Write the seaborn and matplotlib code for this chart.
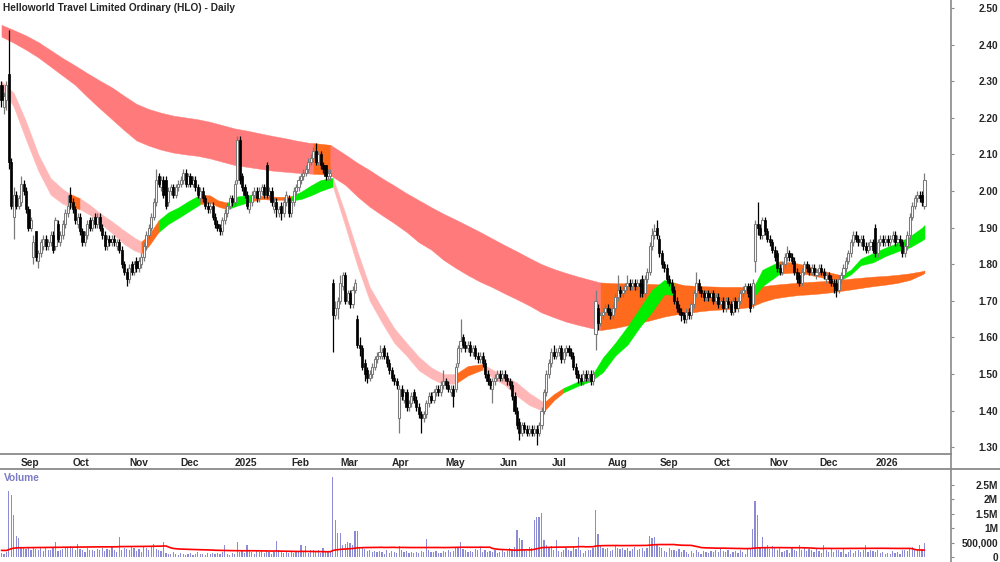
import numpy as np
import pandas as pd
import matplotlib
matplotlib.use("Agg")
import matplotlib.pyplot as plt
from matplotlib.lines import Line2D
import seaborn as sns

sns.set_style("white")
plt.rcParams["font.family"] = ["Liberation Sans", "DejaVu Sans"]
plt.rcParams["font.weight"] = "bold"

title = "Helloworld Travel Limited Ordinary (HLO) - Daily"
first_day = "2024-08-21"

# daily candles
opens = [
    2.29, 2.23, 2.25, 2.32, 2.08, 1.93, 1.99, 1.96, 1.97, 2.02,
    2.00, 1.95, 1.90, 1.82, 1.89, 1.81, 1.83, 1.85, 1.87, 1.85,
    1.86, 1.88, 1.85, 1.91, 1.86, 1.88, 1.91, 1.94, 1.99, 1.97,
    1.95, 1.91, 1.93, 1.89, 1.86, 1.88, 1.92, 1.90, 1.93, 1.91,
    1.93, 1.90, 1.88, 1.85, 1.87, 1.86, 1.87, 1.85, 1.86, 1.84,
    1.80, 1.78, 1.76, 1.80, 1.78, 1.81, 1.79, 1.80, 1.82, 1.85,
    1.88, 1.90, 1.93, 1.97, 2.04, 2.01, 2.03, 2.03, 1.97, 2.00,
    2.01, 1.99, 2.01, 2.02, 2.03, 2.05, 2.02, 2.04, 2.02, 2.03,
    2.01, 1.98, 2.00, 1.98, 1.96, 1.95, 1.96, 1.93, 1.91, 1.90,
    1.89, 1.92, 1.94, 1.96, 1.98, 1.97, 2.03, 2.14, 2.04, 2.01,
    1.99, 1.95, 1.97, 1.99, 2.00, 1.98, 2.00, 2.01, 2.07, 1.99,
    2.00, 1.95, 1.97, 1.94, 1.96, 1.94, 1.97, 1.98, 1.94, 1.97,
    2.00, 2.01, 2.03, 2.04, 2.05, 2.06, 2.08, 2.09, 2.11, 2.08,
    2.10, 2.07, 2.07, 2.04, 2.04, 1.75, 1.66, 1.68, 1.70, 1.74,
    1.77, 1.70, 1.72, 1.69, 1.73, 1.65, 1.58, 1.57, 1.53, 1.51,
    1.49, 1.50, 1.52, 1.54, 1.55, 1.55, 1.57, 1.55, 1.53, 1.51,
    1.49, 1.48, 1.38, 1.46, 1.43, 1.45, 1.41, 1.42, 1.45, 1.43,
    1.41, 1.39, 1.38, 1.39, 1.42, 1.44, 1.43, 1.45, 1.46, 1.45,
    1.47, 1.48, 1.47, 1.45, 1.46, 1.46, 1.53, 1.57, 1.60, 1.58,
    1.57, 1.58, 1.56, 1.57, 1.55, 1.54, 1.55, 1.53, 1.50, 1.48,
    1.46, 1.48, 1.49, 1.50, 1.49, 1.50, 1.49, 1.48, 1.47, 1.44,
    1.40, 1.37, 1.34, 1.36, 1.35, 1.34, 1.35, 1.34, 1.35, 1.34,
    1.36, 1.40, 1.45, 1.50, 1.53, 1.56, 1.55, 1.56, 1.57, 1.54,
    1.56, 1.57, 1.56, 1.55, 1.52, 1.50, 1.49, 1.48, 1.50, 1.49,
    1.50, 1.48, 1.61, 1.68, 1.64, 1.66, 1.67, 1.68, 1.67, 1.66,
    1.68, 1.71, 1.73, 1.72, 1.73, 1.74, 1.75, 1.74, 1.75, 1.74,
    1.75, 1.76, 1.72, 1.76, 1.78, 1.85, 1.88, 1.90, 1.87, 1.83,
    1.80, 1.79, 1.76, 1.75, 1.73, 1.70, 1.68, 1.67, 1.66, 1.65,
    1.67, 1.66, 1.69, 1.72, 1.75, 1.73, 1.72, 1.71, 1.72, 1.71,
    1.72, 1.70, 1.71, 1.69, 1.70, 1.68, 1.70, 1.69, 1.67, 1.70,
    1.68, 1.70, 1.72, 1.73, 1.74, 1.74, 1.69, 1.81, 1.91, 1.90,
    1.88, 1.92, 1.89, 1.87, 1.86, 1.84, 1.83, 1.79, 1.78, 1.80,
    1.82, 1.83, 1.82, 1.81, 1.78, 1.77, 1.75, 1.78, 1.80, 1.79,
    1.78, 1.79, 1.77, 1.78, 1.79, 1.78, 1.76, 1.77, 1.76, 1.75,
    1.75, 1.73, 1.76, 1.77, 1.79, 1.81, 1.83, 1.86, 1.88, 1.87,
    1.86, 1.87, 1.85, 1.84, 1.85, 1.86, 1.90, 1.83, 1.86, 1.87,
    1.86, 1.87, 1.86, 1.87, 1.88, 1.86, 1.87, 1.86, 1.83, 1.85,
    1.88, 1.93, 1.96, 1.98, 1.99, 1.99, 1.96,
]
highs = [
    2.30, 2.27, 2.30, 2.44, 2.09, 2.01, 2.00, 1.99, 2.04, 2.03,
    2.01, 1.96, 1.93, 1.88, 1.89, 1.84, 1.87, 1.88, 1.88, 1.87,
    1.89, 1.89, 1.93, 1.92, 1.89, 1.92, 1.95, 1.99, 2.01, 1.98,
    1.96, 1.94, 1.94, 1.90, 1.89, 1.92, 1.93, 1.93, 1.94, 1.94,
    1.94, 1.91, 1.89, 1.88, 1.88, 1.88, 1.88, 1.87, 1.87, 1.85,
    1.81, 1.79, 1.80, 1.81, 1.81, 1.82, 1.82, 1.83, 1.86, 1.89,
    1.91, 1.94, 1.98, 2.06, 2.05, 2.04, 2.04, 2.04, 2.01, 2.02,
    2.02, 2.02, 2.03, 2.04, 2.06, 2.06, 2.05, 2.05, 2.04, 2.04,
    2.02, 2.01, 2.01, 1.99, 1.97, 1.97, 1.97, 1.94, 1.92, 1.91,
    1.93, 1.95, 1.97, 1.99, 1.99, 2.03, 2.15, 2.15, 2.05, 2.02,
    2.00, 1.98, 2.00, 2.01, 2.01, 2.01, 2.02, 2.02, 2.08, 2.01,
    2.01, 1.98, 1.98, 1.96, 1.97, 1.98, 2.00, 1.99, 1.98, 2.01,
    2.02, 2.04, 2.05, 2.06, 2.07, 2.09, 2.10, 2.12, 2.13, 2.11,
    2.11, 2.08, 2.07, 2.06, 2.06, 1.76, 1.70, 1.71, 1.77, 1.78,
    1.78, 1.73, 1.73, 1.74, 1.76, 1.66, 1.60, 1.58, 1.54, 1.52,
    1.51, 1.53, 1.55, 1.56, 1.58, 1.57, 1.58, 1.56, 1.54, 1.52,
    1.50, 1.49, 1.47, 1.47, 1.46, 1.46, 1.43, 1.45, 1.46, 1.44,
    1.42, 1.40, 1.40, 1.43, 1.45, 1.45, 1.46, 1.47, 1.47, 1.48,
    1.51, 1.49, 1.48, 1.47, 1.47, 1.53, 1.58, 1.65, 1.61, 1.59,
    1.59, 1.59, 1.58, 1.58, 1.56, 1.56, 1.56, 1.54, 1.51, 1.49,
    1.49, 1.50, 1.51, 1.51, 1.51, 1.51, 1.50, 1.49, 1.48, 1.45,
    1.41, 1.38, 1.37, 1.37, 1.36, 1.36, 1.36, 1.36, 1.36, 1.37,
    1.41, 1.46, 1.51, 1.54, 1.57, 1.58, 1.57, 1.58, 1.58, 1.57,
    1.58, 1.58, 1.57, 1.56, 1.53, 1.51, 1.50, 1.51, 1.51, 1.51,
    1.51, 1.51, 1.73, 1.69, 1.67, 1.68, 1.69, 1.69, 1.68, 1.69,
    1.72, 1.77, 1.74, 1.74, 1.75, 1.77, 1.76, 1.76, 1.76, 1.76,
    1.76, 1.77, 1.77, 1.79, 1.86, 1.90, 1.91, 1.92, 1.88, 1.84,
    1.81, 1.80, 1.77, 1.76, 1.74, 1.71, 1.69, 1.68, 1.67, 1.68,
    1.68, 1.70, 1.73, 1.78, 1.76, 1.74, 1.73, 1.73, 1.73, 1.73,
    1.73, 1.72, 1.72, 1.71, 1.71, 1.71, 1.71, 1.70, 1.71, 1.71,
    1.71, 1.73, 1.74, 1.75, 1.75, 1.75, 1.76, 1.92, 1.97, 1.91,
    1.93, 1.93, 1.90, 1.88, 1.87, 1.85, 1.84, 1.80, 1.81, 1.83,
    1.85, 1.84, 1.83, 1.82, 1.79, 1.78, 1.79, 1.81, 1.81, 1.80,
    1.80, 1.80, 1.79, 1.80, 1.80, 1.79, 1.78, 1.78, 1.77, 1.76,
    1.76, 1.77, 1.78, 1.80, 1.82, 1.84, 1.87, 1.89, 1.89, 1.88,
    1.88, 1.88, 1.86, 1.86, 1.87, 1.87, 1.91, 1.87, 1.88, 1.88,
    1.88, 1.88, 1.88, 1.89, 1.89, 1.88, 1.88, 1.87, 1.86, 1.89,
    1.94, 1.97, 1.99, 2.00, 2.00, 2.00, 2.05,
]
lows = [
    2.23, 2.21, 2.22, 2.06, 1.95, 1.87, 1.95, 1.95, 1.96, 1.99,
    1.94, 1.89, 1.89, 1.80, 1.81, 1.79, 1.82, 1.84, 1.84, 1.84,
    1.85, 1.83, 1.84, 1.86, 1.85, 1.87, 1.90, 1.93, 1.95, 1.94,
    1.91, 1.90, 1.88, 1.85, 1.85, 1.87, 1.89, 1.89, 1.90, 1.90,
    1.89, 1.87, 1.84, 1.84, 1.85, 1.85, 1.85, 1.84, 1.83, 1.79,
    1.77, 1.74, 1.75, 1.77, 1.77, 1.78, 1.78, 1.79, 1.81, 1.84,
    1.87, 1.89, 1.92, 1.96, 2.01, 2.00, 1.98, 1.95, 1.96, 1.99,
    1.98, 1.98, 2.00, 2.01, 2.02, 2.01, 2.01, 2.01, 2.01, 2.00,
    1.98, 1.97, 1.97, 1.95, 1.94, 1.94, 1.92, 1.90, 1.89, 1.88,
    1.88, 1.91, 1.93, 1.95, 1.96, 1.96, 2.02, 2.02, 2.00, 1.98,
    1.95, 1.94, 1.96, 1.98, 1.97, 1.97, 1.99, 1.98, 1.98, 1.98,
    1.96, 1.94, 1.93, 1.93, 1.92, 1.93, 1.96, 1.93, 1.93, 1.96,
    1.99, 2.00, 2.02, 2.03, 2.04, 2.05, 2.07, 2.08, 2.07, 2.07,
    2.06, 2.05, 2.03, 2.03, 2.03, 1.56, 1.65, 1.65, 1.69, 1.73,
    1.69, 1.69, 1.68, 1.68, 1.72, 1.57, 1.55, 1.51, 1.48, 1.475,
    1.48, 1.49, 1.51, 1.53, 1.54, 1.54, 1.54, 1.52, 1.50, 1.48,
    1.47, 1.46, 1.34, 1.43, 1.42, 1.40, 1.40, 1.41, 1.42, 1.40,
    1.38, 1.34, 1.37, 1.38, 1.41, 1.42, 1.42, 1.44, 1.44, 1.44,
    1.46, 1.46, 1.45, 1.44, 1.41, 1.45, 1.52, 1.56, 1.57, 1.56,
    1.56, 1.55, 1.55, 1.54, 1.53, 1.53, 1.52, 1.49, 1.47, 1.46,
    1.42, 1.47, 1.48, 1.48, 1.48, 1.48, 1.47, 1.46, 1.43, 1.39,
    1.35, 1.32, 1.33, 1.34, 1.33, 1.33, 1.33, 1.33, 1.305, 1.33,
    1.35, 1.39, 1.44, 1.49, 1.52, 1.54, 1.54, 1.55, 1.53, 1.53,
    1.55, 1.55, 1.54, 1.51, 1.49, 1.475, 1.47, 1.47, 1.48, 1.48,
    1.47, 1.47, 1.566, 1.62, 1.63, 1.65, 1.66, 1.66, 1.65, 1.65,
    1.67, 1.70, 1.71, 1.71, 1.72, 1.73, 1.73, 1.73, 1.73, 1.73,
    1.71, 1.71, 1.71, 1.75, 1.77, 1.84, 1.87, 1.87, 1.82, 1.79,
    1.78, 1.75, 1.74, 1.72, 1.69, 1.67, 1.66, 1.645, 1.64, 1.64,
    1.65, 1.65, 1.68, 1.71, 1.72, 1.71, 1.70, 1.70, 1.70, 1.70,
    1.69, 1.69, 1.68, 1.68, 1.67, 1.67, 1.68, 1.66, 1.66, 1.67,
    1.67, 1.69, 1.71, 1.72, 1.71, 1.67, 1.68, 1.78, 1.88, 1.87,
    1.87, 1.88, 1.86, 1.85, 1.83, 1.81, 1.78, 1.77, 1.77, 1.79,
    1.81, 1.81, 1.80, 1.77, 1.75, 1.74, 1.74, 1.77, 1.78, 1.77,
    1.77, 1.77, 1.76, 1.77, 1.77, 1.76, 1.75, 1.75, 1.74, 1.72,
    1.711, 1.72, 1.75, 1.76, 1.78, 1.80, 1.82, 1.85, 1.86, 1.85,
    1.85, 1.84, 1.83, 1.83, 1.84, 1.83, 1.82, 1.82, 1.85, 1.85,
    1.85, 1.85, 1.85, 1.86, 1.85, 1.85, 1.85, 1.82, 1.82, 1.84,
    1.87, 1.92, 1.95, 1.97, 1.97, 1.96, 1.95,
]
closes = [
    2.25, 2.26, 2.29, 2.08, 1.96, 1.99, 1.96, 1.98, 2.02, 2.00,
    1.95, 1.90, 1.92, 1.86, 1.82, 1.83, 1.86, 1.87, 1.85, 1.86,
    1.88, 1.84, 1.92, 1.87, 1.88, 1.91, 1.94, 1.96, 1.97, 1.95,
    1.92, 1.93, 1.89, 1.86, 1.88, 1.91, 1.90, 1.92, 1.91, 1.93,
    1.90, 1.88, 1.85, 1.87, 1.86, 1.87, 1.86, 1.86, 1.84, 1.80,
    1.78, 1.76, 1.79, 1.78, 1.80, 1.79, 1.81, 1.82, 1.85, 1.88,
    1.90, 1.93, 1.97, 2.03, 2.02, 2.03, 1.99, 1.96, 2.00, 2.01,
    1.99, 2.01, 2.02, 2.03, 2.05, 2.02, 2.04, 2.02, 2.03, 2.01,
    1.99, 2.00, 1.98, 1.96, 1.95, 1.96, 1.93, 1.91, 1.90, 1.89,
    1.92, 1.94, 1.96, 1.98, 1.97, 2.02, 2.14, 2.03, 2.01, 1.99,
    1.96, 1.97, 1.99, 2.00, 1.98, 2.00, 2.01, 1.99, 1.99, 2.00,
    1.97, 1.96, 1.95, 1.95, 1.94, 1.97, 1.99, 1.94, 1.97, 2.00,
    2.01, 2.03, 2.04, 2.05, 2.06, 2.08, 2.09, 2.11, 2.08, 2.10,
    2.07, 2.06, 2.04, 2.05, 2.05, 1.66, 1.68, 1.70, 1.75, 1.77,
    1.70, 1.72, 1.69, 1.73, 1.75, 1.58, 1.57, 1.52, 1.50, 1.49,
    1.50, 1.52, 1.54, 1.55, 1.56, 1.56, 1.55, 1.53, 1.51, 1.49,
    1.48, 1.47, 1.46, 1.44, 1.45, 1.41, 1.42, 1.44, 1.43, 1.41,
    1.39, 1.38, 1.39, 1.42, 1.44, 1.43, 1.45, 1.46, 1.45, 1.47,
    1.48, 1.47, 1.46, 1.46, 1.44, 1.52, 1.57, 1.59, 1.58, 1.57,
    1.58, 1.56, 1.57, 1.55, 1.54, 1.55, 1.53, 1.50, 1.48, 1.47,
    1.48, 1.49, 1.50, 1.49, 1.50, 1.49, 1.48, 1.47, 1.44, 1.40,
    1.36, 1.34, 1.36, 1.35, 1.34, 1.35, 1.34, 1.35, 1.34, 1.36,
    1.40, 1.45, 1.50, 1.53, 1.56, 1.55, 1.56, 1.57, 1.54, 1.56,
    1.57, 1.56, 1.55, 1.52, 1.50, 1.49, 1.48, 1.50, 1.49, 1.50,
    1.48, 1.50, 1.70, 1.64, 1.66, 1.67, 1.68, 1.67, 1.66, 1.68,
    1.71, 1.73, 1.72, 1.73, 1.74, 1.75, 1.74, 1.75, 1.74, 1.75,
    1.74, 1.72, 1.76, 1.78, 1.85, 1.88, 1.89, 1.88, 1.83, 1.80,
    1.79, 1.76, 1.75, 1.73, 1.70, 1.68, 1.67, 1.66, 1.65, 1.67,
    1.66, 1.69, 1.72, 1.75, 1.73, 1.72, 1.71, 1.72, 1.71, 1.72,
    1.70, 1.71, 1.69, 1.70, 1.68, 1.70, 1.69, 1.67, 1.70, 1.68,
    1.70, 1.72, 1.73, 1.74, 1.72, 1.68, 1.75, 1.91, 1.90, 1.88,
    1.92, 1.89, 1.87, 1.86, 1.84, 1.82, 1.79, 1.78, 1.80, 1.82,
    1.83, 1.82, 1.81, 1.78, 1.76, 1.75, 1.78, 1.80, 1.79, 1.78,
    1.79, 1.78, 1.78, 1.79, 1.78, 1.77, 1.77, 1.76, 1.75, 1.74,
    1.73, 1.76, 1.77, 1.79, 1.81, 1.83, 1.86, 1.88, 1.87, 1.86,
    1.87, 1.85, 1.84, 1.85, 1.86, 1.84, 1.83, 1.86, 1.87, 1.86,
    1.87, 1.86, 1.87, 1.88, 1.86, 1.87, 1.86, 1.83, 1.85, 1.88,
    1.93, 1.96, 1.98, 1.99, 1.98, 1.97, 2.03,
]
# daily volume, thousands of shares
volume_k = [
    140, 110, 180, 2300, 2150, 1460, 730, 660, 300, 350,
    280, 330, 260, 340, 290, 250, 310, 200, 330, 260,
    240, 300, 530, 220, 250, 270, 320, 340, 380, 300,
    260, 450, 280, 250, 190, 300, 240, 260, 200, 270,
    230, 310, 210, 280, 250, 330, 240, 160, 700, 230,
    300, 290, 260, 330, 310, 200, 270, 180, 330, 300,
    250, 380, 440, 290, 260, 200, 530, 150, 90, 120,
    160, 110, 80, 140, 100, 70, 90, 130, 80, 110,
    160, 90, 120, 70, 150, 110, 140, 100, 130, 90,
    170, 420, 120, 80, 150, 110, 530, 170, 230, 130,
    420, 260, 180, 120, 220, 160, 200, 140, 260, 180,
    120, 190, 570, 230, 200, 150, 180, 130, 220, 150,
    170, 180, 410, 160, 370, 150, 240, 230, 180, 260,
    150, 300, 200, 160, 190, 2790, 1280, 830, 830, 420,
    460, 530, 500, 420, 910, 910, 350, 300, 270, 220,
    250, 180, 200, 160, 220, 180, 120, 240, 150, 200,
    190, 150, 380, 240, 160, 220, 130, 180, 150, 190,
    140, 200, 170, 620, 240, 180, 160, 210, 140, 130,
    200, 160, 250, 180, 220, 300, 360, 530, 290, 250,
    180, 220, 160, 280, 240, 300, 190, 250, 170, 200,
    160, 230, 150, 190, 260, 170, 210, 300, 250, 330,
    940, 660, 590, 280, 220, 350, 300, 1280, 1380, 1380,
    1520, 590, 410, 300, 370, 260, 590, 220, 180, 260,
    300, 240, 200, 330, 270, 690, 260, 150, 200, 260,
    230, 310, 1630, 800, 370, 320, 280, 300, 210, 250,
    420, 320, 280, 300, 240, 310, 200, 290, 340, 250,
    270, 310, 220, 300, 730, 650, 690, 430, 360, 300,
    220, 180, 310, 250, 260, 200, 280, 170, 230, 190,
    120, 210, 150, 240, 180, 90, 200, 170, 130, 220,
    160, 240, 190, 300, 220, 170, 260, 120, 180, 210,
    150, 230, 190, 120, 280, 320, 970, 1940, 1460, 340,
    700, 330, 400, 280, 380, 320, 250, 300, 180, 200,
    260, 150, 330, 240, 200, 400, 230, 350, 210, 280,
    260, 180, 320, 200, 150, 400, 250, 190, 300, 170,
    230, 260, 160, 300, 120, 190, 240, 140, 200, 250,
    170, 260, 420, 180, 230, 210, 160, 260, 140, 180,
    90, 130, 100, 200, 150, 170, 120, 230, 260, 200,
    300, 360, 260, 230, 420, 280, 490,
]
vol_avg_days = 65
vol_before_k = 230  # average volume before the window

# long-term ribbon envelope (trading-day index, top, bottom)
long_days = [0, 5, 10, 15, 20, 25, 30, 35, 40, 45, 50, 55, 60, 65, 70, 75, 80, 85,
             90, 95, 100, 105, 110, 115, 120, 125, 127, 130, 134, 140, 145, 150,
             155, 160, 165, 170, 175, 180, 185, 190, 195, 200, 205, 210, 215, 220,
             225, 230, 235, 240, 244, 250, 255, 260, 265, 270, 275, 280, 285, 290,
             295, 300, 305, 310, 315, 320, 325, 330, 335, 340, 345, 350, 355, 360,
             365, 370, 375, 376]
long_top = [2.454, 2.440, 2.425, 2.407, 2.385, 2.363, 2.343, 2.322, 2.302, 2.283,
            2.260, 2.238, 2.224, 2.214, 2.206, 2.201, 2.196, 2.189, 2.180, 2.171,
            2.165, 2.158, 2.151, 2.145, 2.138, 2.132, 2.131, 2.129, 2.126, 2.100,
            2.077, 2.057, 2.035, 2.015, 1.994, 1.975, 1.956, 1.938, 1.922, 1.905,
            1.888, 1.870, 1.852, 1.835, 1.817, 1.800, 1.787, 1.776, 1.766, 1.757,
            1.750, 1.748, 1.748, 1.747, 1.746, 1.744, 1.743, 1.742, 1.740, 1.739,
            1.738, 1.738, 1.738, 1.740, 1.744, 1.747, 1.750, 1.752, 1.754, 1.756,
            1.760, 1.763, 1.766, 1.768, 1.771, 1.775, 1.781, 1.783]
long_bottom = [2.422, 2.405, 2.386, 2.365, 2.340, 2.315, 2.290, 2.257, 2.226, 2.196,
               2.166, 2.138, 2.124, 2.113, 2.105, 2.100, 2.096, 2.089, 2.080, 2.071,
               2.066, 2.061, 2.056, 2.053, 2.050, 2.048, 2.047, 2.046, 2.043, 2.017,
               1.985, 1.957, 1.934, 1.912, 1.888, 1.860, 1.840, 1.812, 1.790, 1.770,
               1.752, 1.737, 1.720, 1.704, 1.687, 1.668, 1.655, 1.643, 1.634, 1.626,
               1.620, 1.626, 1.633, 1.640, 1.648, 1.657, 1.663, 1.667, 1.672, 1.675,
               1.677, 1.679, 1.683, 1.697, 1.707, 1.712, 1.716, 1.718, 1.721, 1.725,
               1.730, 1.735, 1.740, 1.744, 1.749, 1.757, 1.772, 1.776]
long_phase_start = [0, 127, 134, 244]
long_phase = ["bear", "mixed", "bear", "mixed"]

# short-term ribbon envelope
short_days = [0, 5, 10, 15, 20, 25, 28, 32, 36, 40, 45, 50, 54, 57, 60, 64, 68, 72,
              76, 81, 85, 88, 92, 96, 102, 106, 110, 114, 118, 122, 126, 130, 135,
              140, 145, 150, 155, 160, 165, 170, 175, 180, 185, 190, 196, 200, 205,
              210, 215, 221, 225, 229, 235, 240, 245, 250, 255, 260, 265, 270, 274,
              280, 285, 290, 295, 300, 305, 310, 317, 322, 327, 332, 337, 342, 346,
              350, 355, 360, 365, 370, 375, 376]
short_top = [2.300, 2.268, 2.190, 2.100, 2.035, 2.005, 1.992, 1.980, 1.962, 1.940,
             1.917, 1.892, 1.873, 1.862, 1.880, 1.920, 1.942, 1.955, 1.972, 1.990,
             1.988, 1.975, 1.968, 1.985, 1.990, 1.987, 1.985, 1.984, 1.986, 1.998,
             2.015, 2.030, 2.036, 1.940, 1.835, 1.738, 1.680, 1.625, 1.585, 1.547,
             1.518, 1.500, 1.500, 1.522, 1.527, 1.512, 1.495, 1.476, 1.448, 1.422,
             1.445, 1.462, 1.480, 1.490, 1.545, 1.585, 1.630, 1.680, 1.730, 1.757,
             1.750, 1.738, 1.730, 1.726, 1.725, 1.722, 1.720, 1.785, 1.808, 1.805,
             1.798, 1.788, 1.778, 1.770, 1.785, 1.815, 1.830, 1.845, 1.858, 1.876,
             1.900, 1.907]
short_bottom = [2.285, 2.230, 2.140, 2.055, 1.990, 1.965, 1.957, 1.950, 1.935, 1.913,
                1.885, 1.855, 1.838, 1.830, 1.850, 1.888, 1.910, 1.926, 1.943, 1.964,
                1.968, 1.958, 1.950, 1.960, 1.972, 1.978, 1.976, 1.976, 1.974, 1.978,
                1.988, 2.000, 2.012, 1.905, 1.795, 1.700, 1.640, 1.585, 1.550, 1.510,
                1.488, 1.472, 1.474, 1.496, 1.512, 1.490, 1.470, 1.440, 1.415, 1.398,
                1.428, 1.450, 1.468, 1.480, 1.505, 1.550, 1.580, 1.628, 1.670, 1.718,
                1.716, 1.712, 1.708, 1.706, 1.705, 1.700, 1.700, 1.740, 1.774, 1.777,
                1.774, 1.767, 1.760, 1.757, 1.772, 1.797, 1.805, 1.822, 1.835, 1.846,
                1.865, 1.870]
short_phase_start = [0, 28, 32, 57, 64, 81, 92, 102, 118, 135, 185, 196, 221, 229,
                     274, 305, 317, 342]
short_phase = ["bear", "mixed", "bear", "mixed", "bull", "mixed", "bull", "mixed",
               "bull", "bear", "mixed", "bear", "mixed", "bull", "mixed", "bull",
               "mixed", "bull"]

price_ticks = [1.30, 1.40, 1.50, 1.60, 1.70, 1.80, 1.90, 2.00, 2.10, 2.20, 2.30, 2.40, 2.50]
vol_ticks = [0, 500000, 1000000, 1500000, 2000000, 2500000]
vol_tick_labels = ["0", "500,000", "1M", "1.5M", "2M", "2.5M"]

long_colors = {"bear": "#ff7b7b", "mixed": "#ff6a1c"}
short_colors = {"bear": "#ffb6b6", "mixed": "#ff6a1c", "bull": "#00ee00"}
frame_grey = "#8a8a8a"
fs = 7.3

# ---------------------------------------------------------------
df = pd.DataFrame({"open": opens, "high": highs, "low": lows, "close": closes,
                   "volume": np.array(volume_k) * 1000})
df["date"] = pd.bdate_range(first_day, periods=len(df))
x = np.arange(len(df))

vol_series = pd.Series([vol_before_k * 1000] * (vol_avg_days - 1) + list(df["volume"]))
df["vol_avg"] = vol_series.rolling(vol_avg_days).mean().iloc[vol_avg_days - 1:].values

fig = plt.figure(figsize=(10, 5.62), dpi=100)
W, H = 1000, 562
ax_p = fig.add_axes([0, (H - 454) / H, 951 / W, 454 / H])
ax_v = fig.add_axes([0, 0, 951 / W, (H - 469) / H])

x_min, x_max = -0.6, 386.8


def draw_ribbon(ax, days, top, bottom, starts, phases, colors, z):
    days = np.asarray(days)
    top = np.asarray(top)
    bottom = np.asarray(bottom)
    ends = list(starts[1:]) + [days[-1]]
    for s, e, ph in zip(starts, ends, phases):
        m = (days >= s) & (days <= e)
        ax.fill_between(days[m], bottom[m], top[m], color=colors[ph],
                        edgecolor=colors[ph], lw=0.3, zorder=z)


draw_ribbon(ax_p, long_days, long_top, long_bottom, long_phase_start, long_phase,
            long_colors, 1)
draw_ribbon(ax_p, short_days, short_top, short_bottom, short_phase_start, short_phase,
            short_colors, 2)

# candles
up = df["close"] >= df["open"]
wick_col = np.where(up, "#7a7a7a", "#000000")
ax_p.vlines(x, df["low"], df["high"], colors=wick_col, lw=0.9, zorder=3)
body_lo = np.minimum(df["open"], df["close"])
body_h = np.maximum((df["close"] - df["open"]).abs(), 0.004)
ax_p.bar(x[up], body_h[up], bottom=body_lo[up], width=0.85, color="white",
         edgecolor="#7a7a7a", linewidth=0.75, zorder=4)
ax_p.bar(x[~up], body_h[~up], bottom=body_lo[~up], width=0.85, color="black",
         edgecolor="black", linewidth=0.5, zorder=4)

ax_p.set_xlim(x_min, x_max)
ax_p.set_ylim(1.2814, 2.5219)

# month ticks
month_idx = [i for i in range(1, len(df)) if df["date"][i].month != df["date"][i - 1].month]
month_lbl = [df["date"][i].strftime("%Y") if df["date"][i].month == 1
             else df["date"][i].strftime("%b") for i in month_idx]
ax_p.set_xticks(month_idx)
ax_p.set_xticklabels(month_lbl)
ax_p.tick_params(axis="x", direction="out", length=2.2, width=0.8, color=frame_grey,
                 pad=0.6, labelsize=fs)
for lbl in ax_p.get_xticklabels():
    lbl.set_horizontalalignment("left")
    lbl.set_fontweight("bold")

ax_p.yaxis.tick_right()
ax_p.set_yticks(price_ticks)
ax_p.set_yticklabels([f"{t:.2f}" for t in price_ticks])
ax_p.tick_params(axis="y", direction="out", length=2.5, width=0.8, color=frame_grey,
                 pad=31.3, labelsize=fs)
for lbl in ax_p.get_yticklabels():
    lbl.set_horizontalalignment("right")
    lbl.set_fontweight("bold")

for side in ["left", "top", "right"]:
    ax_p.spines[side].set_visible(False)
ax_p.spines["bottom"].set_color(frame_grey)
ax_p.spines["bottom"].set_linewidth(1.3)

# volume panel
ax_v.bar(x, df["volume"], width=0.5, color="#8c8cd4", linewidth=0, zorder=2)
sns.lineplot(x=x, y=df["vol_avg"].values, ax=ax_v, color="#ff0000", lw=1.2, zorder=3)
ax_v.set_xlim(x_min, x_max)
ax_v.set_ylim(-174000, 3056000)
ax_v.set_xticks([])
ax_v.yaxis.tick_right()
ax_v.set_yticks(vol_ticks)
ax_v.set_yticklabels(vol_tick_labels)
ax_v.tick_params(axis="y", direction="out", length=2.5, width=0.8, color=frame_grey,
                 pad=31.3, labelsize=fs)
for lbl in ax_v.get_yticklabels():
    lbl.set_horizontalalignment("right")
    lbl.set_fontweight("bold")
for side in ["left", "top", "right", "bottom"]:
    ax_v.spines[side].set_visible(False)
ax_v.set_ylabel("")

# frame lines
fig.add_artist(Line2D([951 / W, 951 / W], [0, 1], transform=fig.transFigure,
                      color=frame_grey, lw=1.2))
fig.add_artist(Line2D([0, 1], [(H - 469) / H, (H - 469) / H], transform=fig.transFigure,
                      color=frame_grey, lw=1.3))

fig.text(3 / W, 1 - 8 / H, title, fontsize=fs, fontweight="bold",
         ha="left", va="center")
fig.text(4 / W, 1 - 478 / H, "Volume", fontsize=fs, fontweight="bold",
         color="#7c7cc4", ha="left", va="center")

fig.savefig("out.png", dpi=100)
